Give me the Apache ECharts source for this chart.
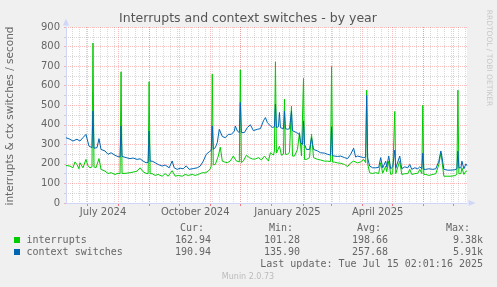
<!DOCTYPE html>
<html>
<head>
<meta charset="utf-8">
<script src="https://cdn.jsdelivr.net/npm/echarts@6/dist/echarts.min.js"></script>
<style>
  html, body { margin: 0; padding: 0; background: #F0F0F0; }
  #chart { width: 497px; height: 287px; }
</style>
</head>
<body>
<div id="chart"></div>
<script>
// time window of the munin "by year" graph (400 days)
const startTime = '2024-06-10 02:01:16';
const endTime = '2025-07-15 02:01:16';

const monthLabels = ['July 2024', 'October 2024', 'January 2025', 'April 2025'];
const monthLabelDates = ['2024-07-17', '2024-10-17', '2025-01-17', '2025-04-17'];

const yMax = 900;
const yStep = 100;

// daily averages
const interrupts = [
  ['2024-06-10', 192], ['2024-06-14', 189], ['2024-06-17', 180], ['2024-06-19', 210], ['2024-06-21', 197],
  ['2024-06-23', 175], ['2024-06-24', 206], ['2024-06-27', 180], ['2024-06-30', 223], ['2024-07-02', 190],
  ['2024-07-04', 180], ['2024-07-06', 185], ['2024-07-07', 818], ['2024-07-08', 185], ['2024-07-10', 180],
  ['2024-07-13', 227], ['2024-07-15', 172], ['2024-07-19', 163], ['2024-07-22', 151], ['2024-07-25', 155],
  ['2024-07-29', 146], ['2024-08-01', 152], ['2024-08-03', 150], ['2024-08-04', 671], ['2024-08-05', 151],
  ['2024-08-09', 152], ['2024-08-13', 155], ['2024-08-16', 158], ['2024-08-20', 163], ['2024-08-23', 180],
  ['2024-08-26', 160], ['2024-08-29', 151], ['2024-08-31', 150], ['2024-09-01', 620], ['2024-09-02', 150],
  ['2024-09-04', 150], ['2024-09-07', 141], ['2024-09-10', 146], ['2024-09-14', 137], ['2024-09-17', 150],
  ['2024-09-20', 137], ['2024-09-24', 165], ['2024-09-27', 137], ['2024-09-30', 141], ['2024-10-04', 137],
  ['2024-10-07', 146], ['2024-10-10', 141], ['2024-10-14', 146], ['2024-10-17', 141], ['2024-10-20', 146],
  ['2024-10-24', 155], ['2024-10-27', 154], ['2024-10-30', 163], ['2024-11-01', 175], ['2024-11-02', 190],
  ['2024-11-03', 659], ['2024-11-04', 195], ['2024-11-06', 197], ['2024-11-09', 240], ['2024-11-11', 285],
  ['2024-11-13', 214], ['2024-11-15', 210], ['2024-11-18', 206], ['2024-11-21', 215], ['2024-11-24', 240],
  ['2024-11-27', 215], ['2024-11-30', 210], ['2024-12-01', 681], ['2024-12-02', 206], ['2024-12-04', 215],
  ['2024-12-07', 244], ['2024-12-10', 232], ['2024-12-13', 225], ['2024-12-16', 225], ['2024-12-19', 232],
  ['2024-12-22', 220], ['2024-12-25', 240], ['2024-12-26', 249], ['2024-12-29', 215], ['2024-12-31', 257],
  ['2025-01-03', 245], ['2025-01-04', 266], ['2025-01-05', 722], ['2025-01-06', 255], ['2025-01-07', 249],
  ['2025-01-09', 291], ['2025-01-11', 244], ['2025-01-13', 250], ['2025-01-14', 531], ['2025-01-15', 249],
  ['2025-01-17', 249], ['2025-01-19', 260], ['2025-01-20', 250], ['2025-01-21', 496], ['2025-01-22', 240],
  ['2025-01-24', 240], ['2025-01-27', 274], ['2025-01-29', 360], ['2025-01-31', 240], ['2025-02-01', 230],
  ['2025-02-02', 637], ['2025-02-03', 223], ['2025-02-05', 223], ['2025-02-08', 232], ['2025-02-10', 351],
  ['2025-02-12', 232], ['2025-02-16', 223], ['2025-02-19', 220], ['2025-02-23', 214], ['2025-02-26', 214],
  ['2025-03-01', 212], ['2025-03-02', 698], ['2025-03-03', 209], ['2025-03-05', 209], ['2025-03-08', 205],
  ['2025-03-11', 203], ['2025-03-15', 197], ['2025-03-18', 186], ['2025-03-21', 205], ['2025-03-24', 214],
  ['2025-03-28', 205], ['2025-03-31', 210], ['2025-04-03', 223], ['2025-04-05', 206], ['2025-04-06', 577],
  ['2025-04-07', 200], ['2025-04-09', 154], ['2025-04-12', 151], ['2025-04-15', 155], ['2025-04-18', 151],
  ['2025-04-20', 206], ['2025-04-22', 152], ['2025-04-25', 189], ['2025-04-26', 160], ['2025-04-28', 214],
  ['2025-04-30', 146], ['2025-05-02', 150], ['2025-05-03', 150], ['2025-05-04', 468], ['2025-05-05', 150],
  ['2025-05-06', 160], ['2025-05-09', 214], ['2025-05-11', 146], ['2025-05-14', 150], ['2025-05-17', 150],
  ['2025-05-19', 172], ['2025-05-21', 146], ['2025-05-24', 150], ['2025-05-27', 152], ['2025-05-29', 172],
  ['2025-05-31', 150], ['2025-06-01', 500], ['2025-06-02', 146], ['2025-06-04', 146], ['2025-06-07', 141],
  ['2025-06-11', 146], ['2025-06-14', 150], ['2025-06-17', 197], ['2025-06-19', 257], ['2025-06-20', 220],
  ['2025-06-22', 137], ['2025-06-26', 137], ['2025-06-29', 137], ['2025-07-03', 140], ['2025-07-05', 146],
  ['2025-07-06', 577], ['2025-07-07', 150], ['2025-07-09', 150], ['2025-07-10', 180], ['2025-07-12', 146],
  ['2025-07-14', 163], ['2025-07-15', 163]
];

const contextSwitches = [
  ['2024-06-10', 334], ['2024-06-14', 326], ['2024-06-17', 317], ['2024-06-21', 326], ['2024-06-24', 317],
  ['2024-06-27', 334], ['2024-06-30', 351], ['2024-07-03', 291], ['2024-07-06', 283], ['2024-07-07', 471],
  ['2024-07-08', 280], ['2024-07-09', 274], ['2024-07-11', 283], ['2024-07-13', 329], ['2024-07-15', 274],
  ['2024-07-19', 266], ['2024-07-22', 249], ['2024-07-25', 257], ['2024-07-29', 244], ['2024-08-01', 237],
  ['2024-08-03', 235], ['2024-08-04', 394], ['2024-08-05', 238], ['2024-08-09', 232], ['2024-08-13', 227],
  ['2024-08-16', 230], ['2024-08-20', 223], ['2024-08-23', 226], ['2024-08-26', 214], ['2024-08-29', 206],
  ['2024-08-31', 208], ['2024-09-01', 368], ['2024-09-02', 214], ['2024-09-04', 214], ['2024-09-07', 206],
  ['2024-09-10', 197], ['2024-09-14', 189], ['2024-09-17', 194], ['2024-09-21', 180], ['2024-09-24', 215],
  ['2024-09-26', 180], ['2024-09-29', 172], ['2024-10-02', 178], ['2024-10-05', 175], ['2024-10-08', 190],
  ['2024-10-11', 172], ['2024-10-15', 176], ['2024-10-19', 180], ['2024-10-22', 189], ['2024-10-25', 214],
  ['2024-10-28', 249], ['2024-10-31', 262], ['2024-11-02', 270], ['2024-11-03', 394], ['2024-11-04', 275],
  ['2024-11-06', 283], ['2024-11-08', 309], ['2024-11-10', 377], ['2024-11-13', 340], ['2024-11-16', 334],
  ['2024-11-19', 351], ['2024-11-22', 351], ['2024-11-25', 368], ['2024-11-26', 394], ['2024-11-28', 368],
  ['2024-11-30', 360], ['2024-12-01', 514], ['2024-12-02', 360], ['2024-12-05', 360], ['2024-12-08', 386],
  ['2024-12-11', 400], ['2024-12-14', 370], ['2024-12-18', 377], ['2024-12-21', 380], ['2024-12-24', 420],
  ['2024-12-26', 437], ['2024-12-28', 411], ['2024-12-31', 394], ['2025-01-02', 386], ['2025-01-04', 390],
  ['2025-01-05', 505], ['2025-01-06', 386], ['2025-01-08', 390], ['2025-01-09', 463], ['2025-01-10', 385],
  ['2025-01-11', 377], ['2025-01-13', 380], ['2025-01-14', 470], ['2025-01-15', 380], ['2025-01-17', 377],
  ['2025-01-19', 380], ['2025-01-20', 378], ['2025-01-21', 471], ['2025-01-22', 370], ['2025-01-23', 368],
  ['2025-01-26', 360], ['2025-01-29', 351], ['2025-01-30', 309], ['2025-02-01', 300], ['2025-02-02', 420],
  ['2025-02-03', 300], ['2025-02-05', 274], ['2025-02-08', 274], ['2025-02-10', 334], ['2025-02-12', 274],
  ['2025-02-16', 266], ['2025-02-19', 257], ['2025-02-23', 255], ['2025-02-26', 249], ['2025-03-01', 245],
  ['2025-03-02', 390], ['2025-03-03', 242], ['2025-03-05', 240], ['2025-03-08', 238], ['2025-03-11', 240],
  ['2025-03-15', 232], ['2025-03-18', 227], ['2025-03-21', 249], ['2025-03-24', 280], ['2025-03-26', 235],
  ['2025-03-28', 240], ['2025-03-31', 236], ['2025-04-03', 232], ['2025-04-05', 235], ['2025-04-06', 550],
  ['2025-04-07', 230], ['2025-04-09', 189], ['2025-04-12', 180], ['2025-04-15', 180], ['2025-04-18', 182],
  ['2025-04-20', 232], ['2025-04-22', 180], ['2025-04-25', 214], ['2025-04-26', 185], ['2025-04-28', 240],
  ['2025-04-30', 175], ['2025-05-02', 185], ['2025-05-03', 180], ['2025-05-04', 270], ['2025-05-05', 178],
  ['2025-05-06', 178], ['2025-05-09', 240], ['2025-05-11', 175], ['2025-05-14', 185], ['2025-05-17', 180],
  ['2025-05-19', 197], ['2025-05-21', 172], ['2025-05-24', 180], ['2025-05-27', 175], ['2025-05-29', 185],
  ['2025-05-31', 175], ['2025-06-01', 255], ['2025-06-02', 172], ['2025-06-04', 172], ['2025-06-07', 175],
  ['2025-06-11', 172], ['2025-06-14', 175], ['2025-06-17', 214], ['2025-06-19', 266], ['2025-06-20', 240],
  ['2025-06-22', 172], ['2025-06-26', 168], ['2025-06-29', 168], ['2025-07-03', 170], ['2025-07-05', 175],
  ['2025-07-06', 265], ['2025-07-07', 180], ['2025-07-09', 180], ['2025-07-10', 214], ['2025-07-12', 175],
  ['2025-07-14', 200], ['2025-07-15', 191]
];

const seriesNames = ['interrupts', 'context switches'];
const seriesColors = ['#00CC00', '#0066B3'];
const curValues = ['162.94', '190.94'];
const minValues = ['101.28', '135.90'];
const avgValues = ['198.66', '257.68'];
const maxValues = ['9.38k', '5.91k'];
const lastUpdate = 'Last update: Tue Jul 15 02:01:16 2025';

const SANS = 'DejaVu Sans';
const MONO = 'DejaVu Sans Mono';
const FONT_COLOR = '#666666';
const AXIS_COLOR = '#CFD6F8';
const MAJOR_GRID = 'rgba(255, 0, 0, 0.26)';
const MINOR_GRID = 'rgba(128, 128, 128, 0.3)';

const chart = echarts.init(document.getElementById('chart'), null, { renderer: 'canvas' });

const option = {
  animation: false,
  backgroundColor: '#F0F0F0',
  grid: {
    left: 66, right: 30, top: 27, bottom: 84,
    show: true, backgroundColor: '#FFFFFF', borderWidth: 0
  },
  xAxis: {
    type: 'time',
    min: startTime,
    max: endTime,
    axisLabel: { show: false },
    axisTick: { show: false },
    splitLine: { show: false },
    axisLine: {
      lineStyle: { color: AXIS_COLOR, width: 1 },
      symbol: ['none', 'triangle'],
      symbolSize: [6, 7],
      symbolOffset: [0, 5]
    },
    z: 3
  },
  yAxis: {
    type: 'value',
    min: 0,
    max: yMax,
    interval: yStep,
    axisLabel: { color: FONT_COLOR, fontFamily: SANS, fontSize: 10, margin: 6 },
    axisTick: { show: true, length: 2, lineStyle: { color: MAJOR_GRID } },
    minorTick: { show: true, splitNumber: 2, length: 2, lineStyle: { color: MINOR_GRID } },
    splitLine: { show: true, lineStyle: { color: MAJOR_GRID, type: [1, 1], width: 1 } },
    minorSplitLine: { show: true, lineStyle: { color: MINOR_GRID, type: [1, 1], width: 1 } },
    axisLine: {
      show: true,
      lineStyle: { color: AXIS_COLOR, width: 1 },
      symbol: ['none', 'triangle'],
      symbolSize: [6, 7],
      symbolOffset: [0, 5]
    },
    z: 3
  },
  series: [
    {
      name: seriesNames[0], type: 'line', data: interrupts,
      showSymbol: false, symbol: 'none', z: 4,
      lineStyle: { color: seriesColors[0], width: 1 }
    },
    {
      name: seriesNames[1], type: 'line', data: contextSwitches,
      showSymbol: false, symbol: 'none', z: 5,
      lineStyle: { color: seriesColors[1], width: 1 }
    }
  ]
};

chart.setOption(option);

// vertical grid (weeks gray, month starts red), x labels and the legend block
const gfx = [];
const yTop = chart.convertToPixel({ yAxisIndex: 0 }, yMax);
const yBottom = chart.convertToPixel({ yAxisIndex: 0 }, 0);
const tStart = echarts.time.parse(startTime).getTime();
const tEnd = echarts.time.parse(endTime).getTime();
const px = t => Math.round(chart.convertToPixel({ xAxisIndex: 0 }, t)) + 0.5;

function vline(x, color, z) {
  gfx.push({
    type: 'line', z: z, silent: true,
    shape: { x1: x, y1: yTop, x2: x, y2: yBottom },
    style: { stroke: color, lineWidth: 1, lineDash: [1, 1] }
  });
}

// weekly lines on Sundays
let d = new Date(tStart);
d.setHours(0, 0, 0, 0);
d.setDate(d.getDate() + ((7 - d.getDay()) % 7));
while (d.getTime() < tEnd) {
  if (d.getTime() > tStart) vline(px(d.getTime()), MINOR_GRID, 1);
  d.setDate(d.getDate() + 7);
}
// monthly lines
let m = new Date(tStart);
m = new Date(m.getFullYear(), m.getMonth() + 1, 1);
while (m.getTime() < tEnd) {
  const x = px(m.getTime());
  vline(x, MAJOR_GRID, 2);
  gfx.push({
    type: 'line', z: 2, silent: true,
    shape: { x1: x, y1: yBottom, x2: x, y2: yBottom + 3 },
    style: { stroke: 'rgba(255, 0, 0, 0.5)', lineWidth: 1 }
  });
  m = new Date(m.getFullYear(), m.getMonth() + 1, 1);
}

monthLabels.forEach((label, i) => {
  gfx.push({
    type: 'text', silent: true,
    x: chart.convertToPixel({ xAxisIndex: 0 }, echarts.time.parse(monthLabelDates[i]).getTime()),
    y: 212,
    style: { text: label, fill: FONT_COLOR, font: '10px "' + SANS + '"', textAlign: 'center', textVerticalAlign: 'middle' }
  });
});

function txt(text, x, y, opts) {
  gfx.push({
    type: 'text', silent: true, x: x, y: y, rotation: (opts && opts.rotation) || 0,
    style: Object.assign({
      text: text, fill: FONT_COLOR, font: '10px "' + MONO + '"',
      textAlign: 'left', textVerticalAlign: 'middle'
    }, (opts && opts.style) || {})
  });
}

// title, axis title, watermark
txt('Interrupts and context switches - by year', 248, 19, {
  style: { font: '12.5px "' + SANS + '"', textAlign: 'center', fill: '#555555' }
});
txt('interrupts & ctx switches / second', 10, 116, {
  rotation: Math.PI / 2,
  style: { font: '10.5px "' + SANS + '"', textAlign: 'center' }
});
txt('RRDTOOL / TOBI OETIKER', 489, 58, {
  rotation: -Math.PI / 2,
  style: { font: '7.5px "' + SANS + '"', textAlign: 'center', fill: '#C8C8C8' }
});

// legend table
const colRight = [211, 300, 388, 483];
const headRight = [204, 293, 381, 470];
['Cur:', 'Min:', 'Avg:', 'Max:'].forEach((h, i) => txt(h, headRight[i], 228, { style: { textAlign: 'right' } }));
seriesNames.forEach((name, i) => {
  const y = 240 + i * 12;
  gfx.push({
    type: 'rect', silent: true,
    shape: { x: 14, y: y - 3, width: 6, height: 6 },
    style: { fill: seriesColors[i] }
  });
  txt(name, 26.5, y);
  [curValues, minValues, avgValues, maxValues].forEach((vals, c) => {
    txt(vals[i], colRight[c], y, { style: { textAlign: 'right' } });
  });
});
txt(lastUpdate, 483, 264, { style: { textAlign: 'right' } });
txt('Munin 2.0.73', 248, 277, { style: { font: '8px "' + SANS + '"', textAlign: 'center', fill: '#BBBBBB' } });

chart.setOption({ graphic: { elements: gfx } });
</script>
</body>
</html>
